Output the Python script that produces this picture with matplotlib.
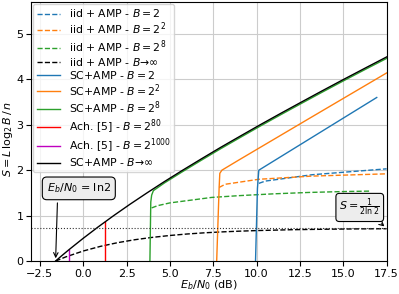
import matplotlib
matplotlib.use('Agg')
import matplotlib.pyplot as plt
import numpy as np

# ---- data (Eb/N0 in dB, S = L log2 B / n) ----
# SC+AMP, B -> inf
sc_inf_x = [-1.59, -1.29, -0.82, 0.0, 0.86, 1.76, 2.70, 3.68, 4.69, 5.74, 6.82,
            7.92, 9.06, 10.21, 11.39, 12.59, 13.80, 15.03, 16.28, 17.54]
sc_inf_y = [0.0, 0.1, 0.25, 0.5, 0.75, 1.0, 1.25, 1.5, 1.75, 2.0, 2.25,
            2.5, 2.75, 3.0, 3.25, 3.5, 3.75, 4.0, 4.25, 4.5]
# iid + AMP, B -> inf
iid_inf_x = [-1.59, -1.0, 0.0, 1.0, 2.0, 3.0, 4.0, 5.0, 6.0, 7.0, 8.0, 9.0,
             10.0, 12.0, 14.0, 16.0, 17.5]
iid_inf_y = [0.0, 0.092, 0.221, 0.324, 0.406, 0.471, 0.522, 0.563, 0.596, 0.622,
             0.642, 0.658, 0.671, 0.690, 0.701, 0.709, 0.712]
# SC+AMP finite B
sc_b2_x = [9.94, 10.05, 10.13, 16.93]
sc_b2_y = [0.0, 1.60, 2.00, 3.60]
sc_b4_x = [7.70, 7.84, 7.88, 8.0, 8.96, 13.0, 17.5]
sc_b4_y = [0.0, 1.60, 1.93, 2.00, 2.22, 3.13, 4.14]
sc_b256_x = [3.85, 3.90, 3.95, 4.05, 4.69, 5.74, 6.82, 7.92, 9.06, 10.21, 11.39,
             12.59, 13.80, 15.03, 16.28, 17.5]
sc_b256_y = [0.0, 1.30, 1.45, 1.55, 1.72, 1.97, 2.22, 2.47, 2.72, 2.97, 3.22,
             3.47, 3.72, 3.97, 4.22, 4.46]
# iid + AMP finite B
iid_b2_x = [10.13, 10.5, 13.2, 17.5]
iid_b2_y = [1.71, 1.76, 1.90, 2.03]
iid_b4_x = [7.84, 8.19, 10.13, 13.2, 17.5]
iid_b4_y = [1.62, 1.69, 1.80, 1.87, 1.92]
iid_b256_x = [3.95, 4.3, 5.0, 6.0, 7.4, 9.0, 11.0, 13.0, 15.0, 16.6]
iid_b256_y = [1.17, 1.22, 1.28, 1.33, 1.40, 1.44, 1.48, 1.51, 1.53, 1.54]
# achievability [5]
ach80_x = [1.27, 1.27]
ach80_y = [0.0, 0.87]
ach1000_x = [-0.80, -0.80]
ach1000_y = [0.0, 0.25]

ebn0_min = -1.59
s_max = 0.7213

fig, ax = plt.subplots(figsize=(3.99, 2.94), dpi=100)
plt.subplots_adjust(left=0.078, right=0.969, bottom=0.112, top=0.993)

ax.plot(iid_b2_x, iid_b2_y, '--', color='C0', lw=1, label='iid + AMP - $B = 2$')
ax.plot(iid_b4_x, iid_b4_y, '--', color='C1', lw=1, label='iid + AMP - $B = 2^2$')
ax.plot(iid_b256_x, iid_b256_y, '--', color='C2', lw=1, label='iid + AMP - $B = 2^8$')
ax.plot(iid_inf_x, iid_inf_y, '--', color='k', lw=1, label=r'iid + AMP - $B$→∞')
ax.plot(sc_b2_x, sc_b2_y, '-', color='C0', lw=1, label='SC+AMP - $B = 2$')
ax.plot(sc_b4_x, sc_b4_y, '-', color='C1', lw=1, label='SC+AMP - $B = 2^2$')
ax.plot(sc_b256_x, sc_b256_y, '-', color='C2', lw=1, label='SC+AMP - $B = 2^8$')
ax.plot(ach80_x, ach80_y, '-', color='r', lw=1, label='Ach. [5] - $B = 2^{80}$')
ax.plot(ach1000_x, ach1000_y, '-', color='m', lw=1, label='Ach. [5] - $B = 2^{1000}$')
ax.plot(sc_inf_x, sc_inf_y, '-', color='k', lw=1, label=r'SC+AMP - $B$→∞')

ax.axhline(s_max, color='0.2', ls=':', lw=0.8)

ax.annotate(r'$E_b/N_0$ = ln2', xy=(ebn0_min, 0), xytext=(-0.25, 1.6),
            fontsize=8, ha='center', va='center',
            bbox=dict(boxstyle='round,pad=0.4', fc='0.93', ec='k', lw=0.8),
            arrowprops=dict(arrowstyle='->', color='k', lw=0.8, relpos=(0.17, 0)))
ax.annotate(r'$S = \frac{1}{2\ln 2}$', xy=(17.5, s_max), xytext=(15.95, 1.18),
            fontsize=8, ha='center', va='center',
            bbox=dict(boxstyle='round,pad=0.3', fc='0.93', ec='k', lw=0.8),
            arrowprops=dict(arrowstyle='->', color='k', lw=0.8, ls='--', relpos=(0.87, 0)))

ax.set_xlim(-3, 17.5)
ax.set_ylim(0, 5.7)
ax.set_xticks(np.arange(-2.5, 17.6, 2.5))
ax.set_yticks(range(0, 6))
ax.tick_params(labelsize=8, pad=2)
ax.grid(True, color='0.8', lw=0.8)
ax.set_xlabel('$E_b/N_0$ (dB)', fontsize=8)
ax.set_ylabel(r'$S = L\,\log_2 B\,/\,n$', fontsize=8)
ax.xaxis.set_label_coords(0.5, -0.066)
ax.yaxis.set_label_coords(-0.046, 0.47)
ax.legend(loc='upper left', fontsize=7.8, borderaxespad=0.2, labelspacing=0.1,
          handlelength=2.2, borderpad=0.3)

fig.savefig('out.png', dpi=100)
